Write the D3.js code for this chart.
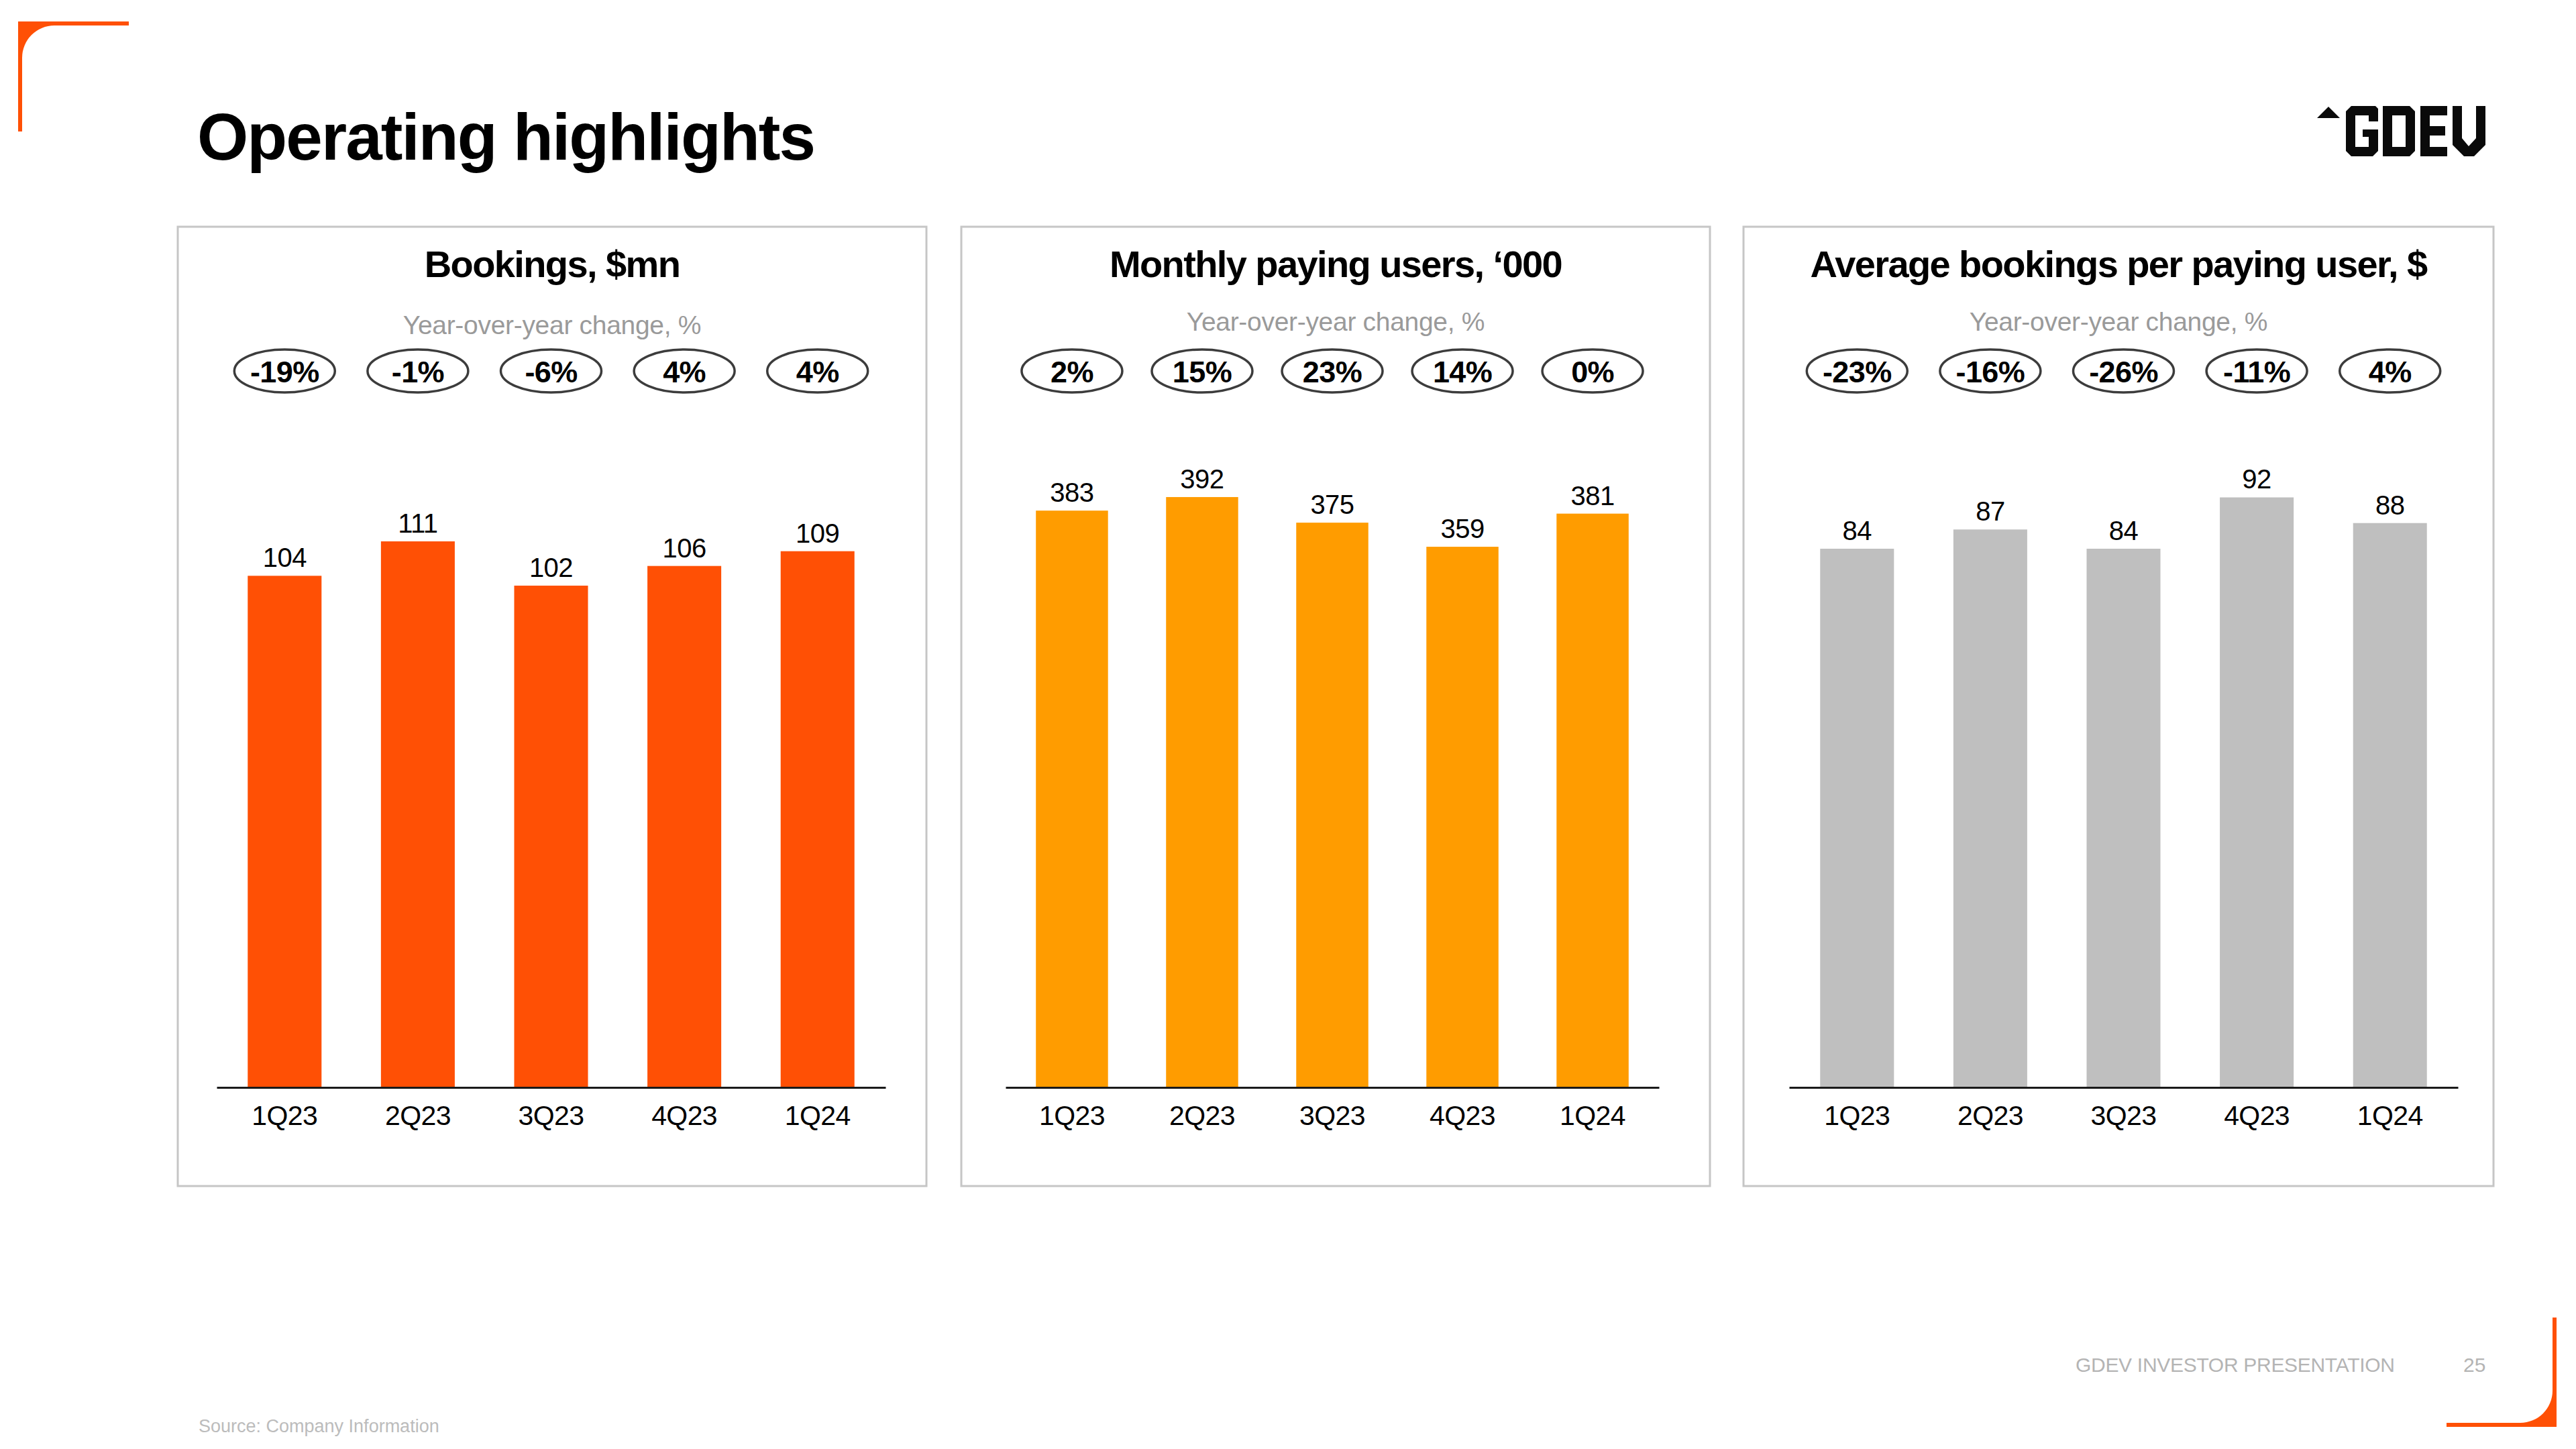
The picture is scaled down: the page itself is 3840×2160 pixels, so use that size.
<!DOCTYPE html>
<html>
<head>
<meta charset="utf-8">
<script src="https://cdn.jsdelivr.net/npm/d3@7"></script>
<style>
  html, body { margin: 0; padding: 0; background: #ffffff; }
  svg { display: block; }
</style>
</head>
<body>
<script>
// ---------------- DATA ----------------
const categories = ['1Q23', '2Q23', '3Q23', '4Q23', '1Q24'];

const bookings = [104, 111, 102, 106, 109];
const bookingsYoY = [-19, -1, -6, 4, 4];

const payingUsers = [383, 392, 375, 359, 381];
const payingUsersYoY = [2, 15, 23, 14, 0];

const abppu = [84, 87, 84, 92, 88];
const abppuYoY = [-23, -16, -26, -11, 4];

const panelTitles = ['Bookings, $mn', 'Monthly paying users, \u2018000', 'Average bookings per paying user, $'];
const yoyLabel = 'Year-over-year change, %';
const pageTitle = 'Operating highlights';
const footerText = 'GDEV INVESTOR PRESENTATION';
const pageNumber = '25';
const sourceText = 'Source: Company Information';

// ---------------- LAYOUT ----------------
const W = 3840, H = 2160;
const FONT = "'Liberation Sans', Arial, Helvetica, sans-serif";
const panels = [
  { values: bookings, yoy: bookingsYoY, title: panelTitles[0], color: '#FF5005', x0: 265, x1: 1381, ax: [323, 1320], yMax: 120, yTop: 741, subY: 498 },
  { values: payingUsers, yoy: payingUsersYoY, title: panelTitles[1], color: '#FF9C00', x0: 1433, x1: 2549, ax: [1499, 2473], yMax: 400, yTop: 723, subY: 493 },
  { values: abppu, yoy: abppuYoY, title: panelTitles[2], color: '#BFBFBF', x0: 2599, x1: 3717, ax: [2667, 3664], yMax: 100, yTop: 665, subY: 493 }
];
const panelTop = 338, panelBottom = 1768, axisY = 1621;

const svg = d3.select('body').append('svg')
  .attr('width', W).attr('height', H)
  .attr('viewBox', `0 0 ${W} ${H}`);

svg.append('rect').attr('width', W).attr('height', H).attr('fill', '#ffffff');

// ---- corner brackets ----
const orange = '#FF5005';
svg.append('path')
  .attr('d', 'M27,32 L192,32 L192,38 L81,38 A48,48 0 0 0 33,86 L33,196 L27,196 Z')
  .attr('fill', orange);
svg.append('path')
  .attr('d', 'M3811,1964 L3811,2127 L3647,2127 L3647,2121 L3757,2121 A48,48 0 0 0 3805,2073 L3805,1964 Z')
  .attr('fill', orange);

// ---- page title ----
svg.append('text')
  .attr('x', 294).attr('y', 238)
  .attr('font-family', FONT).attr('font-weight', 700)
  .attr('font-size', 98).attr('letter-spacing', -1.9)
  .attr('fill', '#000')
  .text(pageTitle);

// ---- logo (GDEV block letters) ----
const logo = svg.append('g').attr('fill', '#0a0a0a');
logo.append('path').attr('d', 'M3454,176 L3488,176 L3471,159 Z');
function letter(x, y, pts, extra) {
  let d = 'M' + pts.map(p => (x + p[0]) + ',' + (y + p[1])).join(' L') + ' Z';
  if (extra) d += ' M' + extra.map(p => (x + p[0]) + ',' + (y + p[1])).join(' L') + ' Z';
  logo.append('path').attr('d', d).attr('fill-rule', 'evenodd');
}
const LY = 158, LH = 75, t = 14, c = 8;
(function () {
  const w = 48;
  letter(3497, LY, [[c,0],[w-4,0],[w,4],[w,23],[w-t,23],[w-t,t],[t,t],[t,LH-t],[w-t,LH-t],[w-t,46],[25,46],[25,35],[w,35],[w,LH-c],[w-c,LH],[c,LH],[0,LH-c],[0,c]]);
})();
(function () {
  const w = 48;
  letter(3552, LY, [[0,0],[w-c,0],[w,c],[w,LH-c],[w-c,LH],[0,LH]], [[t,t],[w-t,t],[w-t,LH-t],[t,LH-t]]);
})();
(function () {
  const w = 40;
  letter(3608, LY, [[0,0],[w,0],[w,t],[t,t],[t,30],[w-3,30],[w-3,44],[t,44],[t,LH-t],[w,LH-t],[w,LH],[0,LH]]);
})();
(function () {
  const w = 49;
  letter(3656, LY, [[0,0],[t,0],[t,48],[24,60],[w-t,48],[w-t,0],[w,0],[w,58],[32,LH],[17,LH],[0,58]]);
})();

// ---- panels ----
panels.forEach(p => {
  const g = svg.append('g');
  const cx = (p.x0 + p.x1) / 2;

  g.append('rect')
    .attr('x', p.x0).attr('y', panelTop)
    .attr('width', p.x1 - p.x0).attr('height', panelBottom - panelTop)
    .attr('fill', 'none').attr('stroke', '#c6c6c6').attr('stroke-width', 3);

  g.append('text')
    .attr('x', cx).attr('y', 413)
    .attr('text-anchor', 'middle')
    .attr('font-family', FONT).attr('font-weight', 700)
    .attr('font-size', 56).attr('letter-spacing', -1.6)
    .attr('fill', '#000')
    .text(p.title);

  g.append('text')
    .attr('x', cx).attr('y', p.subY)
    .attr('text-anchor', 'middle')
    .attr('font-family', FONT)
    .attr('font-size', 39).attr('letter-spacing', -0.3)
    .attr('fill', '#9a9a9a')
    .text(yoyLabel);

  const x = d3.scaleBand()
    .domain(categories)
    .range(p.ax)
    .paddingInner(0.446)
    .paddingOuter(0.233);

  const y = d3.scaleLinear()
    .domain([0, p.yMax])
    .range([axisY, p.yTop]);

  const data = categories.map((cat, i) => ({ cat, v: p.values[i], yoy: p.yoy[i] }));

  const yo = g.selectAll('.yoy').data(data).enter().append('g');
  yo.append('ellipse')
    .attr('cx', d => x(d.cat) + x.bandwidth() / 2)
    .attr('cy', 553)
    .attr('rx', 75).attr('ry', 32)
    .attr('fill', '#fff').attr('stroke', '#3c3c3c').attr('stroke-width', 3.5);
  yo.append('text')
    .attr('x', d => x(d.cat) + x.bandwidth() / 2)
    .attr('y', 570)
    .attr('text-anchor', 'middle')
    .attr('font-family', FONT).attr('font-weight', 700)
    .attr('font-size', 45).attr('letter-spacing', -0.6)
    .attr('fill', '#000')
    .text(d => d.yoy + '%');

  g.selectAll('.bar').data(data).enter().append('rect')
    .attr('x', d => x(d.cat))
    .attr('y', d => y(d.v))
    .attr('width', x.bandwidth())
    .attr('height', d => y(0) - y(d.v))
    .attr('fill', p.color);

  g.selectAll('.val').data(data).enter().append('text')
    .attr('x', d => x(d.cat) + x.bandwidth() / 2)
    .attr('y', d => y(d.v) - 13)
    .attr('text-anchor', 'middle')
    .attr('font-family', FONT)
    .attr('font-size', 40).attr('letter-spacing', -0.5)
    .attr('fill', '#000')
    .text(d => d.v);

  const axis = g.append('g')
    .attr('transform', `translate(0,${axisY})`)
    .call(d3.axisBottom(x).tickSize(0).tickPadding(27).tickSizeOuter(0));
  axis.select('.domain').attr('stroke', '#1a1a1a').attr('stroke-width', 3);
  axis.selectAll('text')
    .attr('font-family', FONT)
    .attr('font-size', 41).attr('letter-spacing', -0.6)
    .attr('fill', '#000');
});

// ---- footer ----
svg.append('text')
  .attr('x', 3094).attr('y', 2045)
  .attr('font-family', FONT).attr('font-size', 30).attr('letter-spacing', -0.3)
  .attr('fill', '#b4b4b4')
  .text(footerText);
svg.append('text')
  .attr('x', 3672).attr('y', 2045)
  .attr('font-family', FONT).attr('font-size', 30)
  .attr('fill', '#b4b4b4')
  .text(pageNumber);
svg.append('text')
  .attr('x', 296).attr('y', 2135)
  .attr('font-family', FONT).attr('font-size', 27)
  .attr('fill', '#bcbcbc')
  .text(sourceText);
</script>
</body>
</html>
